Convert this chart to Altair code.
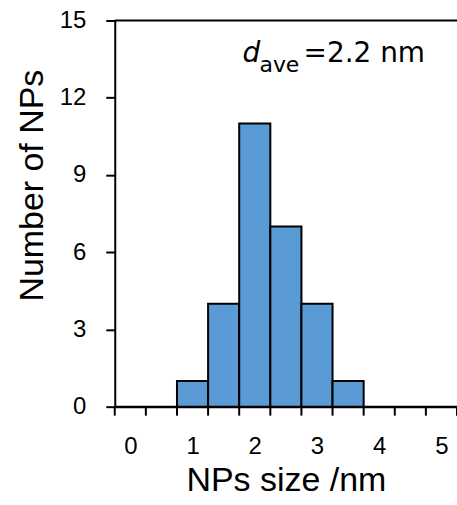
import altair as alt
import pandas as pd

sizes = [0, 0.5, 1, 1.5, 2, 2.5, 3, 3.5, 4, 4.5, 5]
counts = [0, 0, 1, 4, 11, 7, 4, 1, 0, 0, 0]
bin_width = 0.5
x_labels = [0, 1, 2, 3, 4, 5]
y_ticks = [0, 3, 6, 9, 12, 15]
y_max = [15]
annot_d = ["d"]
annot_sub = ["ave"]
annot_main = ["=2.2 nm"]

df = pd.DataFrame({"np_size": sizes, "n_np": counts})
edges = pd.DataFrame({"c": sizes + [sizes[-1] + bin_width]})

FONT = "Liberation Sans"
ANNOT_FONT = "DejaVu Sans"
x_scale = alt.Scale(domain=[sizes[0] - bin_width / 2, sizes[-1] + bin_width / 2], nice=False, zero=False)
y_scale = alt.Scale(domain=[0, 15], nice=False)

x_axis = alt.Axis(
    title="NPs size /nm",
    values=x_labels,
    format="d",
    grid=False,
    tickSize=0,
    domainColor="black",
    domainWidth=2,
    labelFont=FONT,
    labelFontSize=24,
    labelColor="black",
    labelPadding=28,
    titleFont=FONT,
    titleFontSize=34,
    titleFontWeight="normal",
    titleColor="black",
    titlePadding=5,
)

y_axis = alt.Axis(
    title="Number of NPs",
    values=y_ticks,
    grid=False,
    tickSize=9,
    tickWidth=2,
    tickColor="black",
    domainColor="black",
    domainWidth=2,
    labelFont=FONT,
    labelFontSize=24,
    labelColor="black",
    labelPadding=20,
    titleFont=FONT,
    titleFontSize=34,
    titleFontWeight="normal",
    titleColor="black",
    titleBaseline="alphabetic",
    titleX=-72,
    titleY=165,
)

bars = alt.Chart(df).transform_calculate(
    lo="datum.np_size - 0.25", hi="datum.np_size + 0.25"
).mark_bar(color="#5B9BD5", stroke="black", strokeWidth=2).encode(
    x=alt.X("lo:Q", scale=x_scale, axis=x_axis),
    x2="hi:Q",
    y=alt.Y("n_np:Q", scale=y_scale, axis=y_axis),
    y2=alt.datum(0),
)

edge_ticks = alt.Chart(edges).transform_calculate(
    e="datum.c - 0.25"
).mark_rule(color="black", strokeWidth=2).encode(
    x=alt.X("e:Q", scale=x_scale),
    y=alt.value(387),
    y2=alt.value(396),
)

top_rule = alt.Chart(pd.DataFrame({"v": y_max})).mark_rule(
    color="black", strokeWidth=2
).encode(y=alt.Y("v:Q", scale=y_scale))

d_text = alt.Chart(pd.DataFrame({"t": annot_d})).mark_text(
    font=ANNOT_FONT, fontSize=28, fontStyle="italic", align="left",
    baseline="alphabetic", color="black"
).encode(text="t:N", x=alt.value(128), y=alt.value(42))

sub_text = alt.Chart(pd.DataFrame({"t": annot_sub})).mark_text(
    font=ANNOT_FONT, fontSize=22, align="left",
    baseline="alphabetic", color="black"
).encode(text="t:N", x=alt.value(145), y=alt.value(52))

main_text = alt.Chart(pd.DataFrame({"t": annot_main})).mark_text(
    font=ANNOT_FONT, fontSize=28, align="right",
    baseline="alphabetic", color="black"
).encode(text="t:N", x=alt.value(311), y=alt.value(42))

chart = alt.layer(bars, edge_ticks, top_rule, d_text, sub_text, main_text).properties(
    width=343,
    height=387,
    autosize=alt.AutoSizeParams(type="none"),
    padding={"left": 115, "top": 20, "right": 0, "bottom": 98},
    background="white",
).configure_view(strokeWidth=0)

chart.save("out.html", embed_options={"renderer": "svg", "actions": False})
